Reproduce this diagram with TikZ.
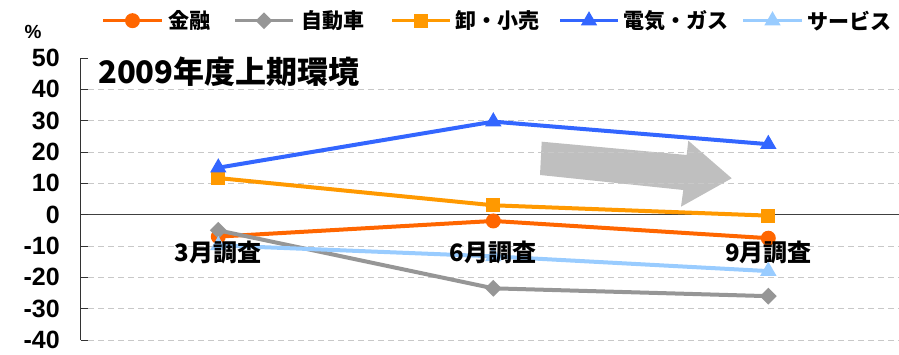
\documentclass[tikz,border=0pt]{standalone}
\usepackage{fontspec}
\setmainfont{Noto Sans CJK JP}
\newfontfamily\numfont{Liberation Sans}
\usetikzlibrary{shapes.geometric}
\definecolor{kinyu}{HTML}{FF6600}
\definecolor{jidosha}{HTML}{969696}
\definecolor{oroshi}{HTML}{FF9900}
\definecolor{denki}{HTML}{3366FF}
\definecolor{saabisu}{HTML}{99CCFF}
\definecolor{gridgray}{HTML}{C8C8C8}
\definecolor{arrowgray}{HTML}{BFBFBF}
\tikzset{
  serie/.style={line width=4pt, line join=round},
  legline/.style={line width=3pt},
  mcirc/.style={circle, fill=#1, inner sep=0pt, minimum size=15pt},
  mdiam/.style={diamond, fill=#1, inner sep=0pt, minimum size=17pt},
  msq/.style={rectangle, fill=#1, inner sep=0pt, minimum size=14pt},
  mtri/.style={regular polygon, regular polygon sides=3, fill=#1, inner sep=0pt, minimum size=19pt},
  ticklab/.style={anchor=east, inner sep=0pt, font=\numfont\bfseries\fontsize{25}{25}\selectfont},
  catlab/.style={inner sep=0pt, font=\bfseries\fontsize{24}{24}\selectfont},
  leglab/.style={anchor=west, inner sep=0pt, font=\bfseries\fontsize{21}{21}\selectfont},
}
\begin{document}
\begin{tikzpicture}[x=1pt, y=1pt]
\useasboundingbox (0,0) rectangle (899,355);
% Titulo y unidad
\node [inner sep=0pt, font=\numfont\bfseries\fontsize{19}{19}\selectfont] (pct) at (33,323) {\%};
\node [anchor=west, inner sep=0pt, font=\bfseries\fontsize{31}{31}\selectfont] (titulo) at (98,283) {2009年度上期環境};
% Flecha
\fill [arrowgray] (541.7,213.3) -- (540,180) -- (683.3,165) -- (681,148.3)
  -- (731.7,176.7) -- (688.3,214.3) -- (686.7,200) -- cycle;
% ---
% Ejes
% ---
\begin{scope}[shift={(0,140.3)}, y=3.133pt]
\foreach \v in {-40,-30,-20,-10,10,20,30,40}
  \draw [gridgray, line width=0.8pt, dash pattern=on 6pt off 4pt] (88,\v) -- (899,\v);
\coordinate (o) at (80.7,0);
\coordinate (ox) at (899,0);
\coordinate (ytop) at (80.7,50);
\coordinate (ybot) at (80.7,-40);
\draw [black!75, line width=1pt] (o) -- (ox);
\draw [black!80, line width=1pt] (ybot) -- (ytop);
\foreach \v in {-40,-30,...,50}{
  \draw [black!80, line width=1pt] (80.7,\v) -- (88,\v);
  \node [ticklab] (t\v) at (60,\v) {\v};
}
% ---
% Series
% ---
% Kinyu
\coordinate (k1) at (218.3,-7);
\coordinate (k2) at (493.3,-2);
\coordinate (k3) at (768.3,-7.5);
\draw [serie, kinyu] (k1) -- (k2) -- (k3);
\node [mcirc=kinyu] (km1) at (k1) {};
\node [mcirc=kinyu] (km2) at (k2) {};
\node [mcirc=kinyu] (km3) at (k3) {};
% Jidosha
\coordinate (j1) at (218.3,-5);
\coordinate (j2) at (493.3,-23.5);
\coordinate (j3) at (768.3,-26);
\draw [serie, jidosha] (j1) -- (j2) -- (j3);
\node [mdiam=jidosha] (jm1) at (j1) {};
\node [mdiam=jidosha] (jm2) at (j2) {};
\node [mdiam=jidosha] (jm3) at (j3) {};
% Oroshi
\coordinate (r1) at (218.3,11.7);
\coordinate (r2) at (493.3,3);
\coordinate (r3) at (768.3,-0.3);
\draw [serie, oroshi] (r1) -- (r2) -- (r3);
\node [msq=oroshi] (rm1) at (r1) {};
\node [msq=oroshi] (rm2) at (r2) {};
\node [msq=oroshi] (rm3) at (r3) {};
% Denki
\coordinate (d1) at (218.3,15);
\coordinate (d2) at (493.3,29.7);
\coordinate (d3) at (768.3,22.5);
\draw [serie, denki] (d1) -- (d2) -- (d3);
\node [mtri=denki] (dm1) at (d1) {};
\node [mtri=denki] (dm2) at (d2) {};
\node [mtri=denki] (dm3) at (d3) {};
% Saabisu
\coordinate (s1) at (218.3,-9.8);
\coordinate (s2) at (493.3,-13.3);
\coordinate (s3) at (768.3,-18);
\draw [serie, saabisu] (s1) -- (s2) -- (s3);
\node [mtri=saabisu] (sm1) at (s1) {};
\node [mtri=saabisu] (sm2) at (s2) {};
\node [mtri=saabisu] (sm3) at (s3) {};
% Categorias
\node [catlab] (c3) at (218.3,-12.2) {3月調査};
\node [catlab] (c6) at (493.3,-12.2) {6月調査};
\node [catlab] (c9) at (768.3,-12.2) {9月調査};
\end{scope}
% ---
% Leyenda
% ---
\coordinate (la1) at (103,334.3); \coordinate (lb1) at (162,334.3);
\draw [legline, kinyu] (la1) -- (lb1);
\node [mcirc=kinyu] (lm1) at (132.5,334.3) {};
\node [leglab] (ll1) at (168,334.3) {金融};
\coordinate (la2) at (235,334.3); \coordinate (lb2) at (293,334.3);
\draw [legline, jidosha] (la2) -- (lb2);
\node [mdiam=jidosha] (lm2) at (264,334.3) {};
\node [leglab] (ll2) at (301,334.3) {自動車};
\coordinate (la3) at (392,334.3); \coordinate (lb3) at (450,334.3);
\draw [legline, oroshi] (la3) -- (lb3);
\node [msq=oroshi] (lm3) at (421,334.3) {};
\node [leglab] (ll3) at (455,334.3) {卸・小売};
\coordinate (la4) at (560,334.3); \coordinate (lb4) at (618,334.3);
\draw [legline, denki] (la4) -- (lb4);
\node [mtri=denki] (lm4) at (589,334.3) {};
\node [leglab] (ll4) at (623,334.3) {電気・ガス};
\coordinate (la5) at (743,334.3); \coordinate (lb5) at (802,334.3);
\draw [legline, saabisu] (la5) -- (lb5);
\node [mtri=saabisu] (lm5) at (772.5,334.3) {};
\node [leglab] (ll5) at (807,334.3) {サービス};
\end{tikzpicture}
\end{document}
